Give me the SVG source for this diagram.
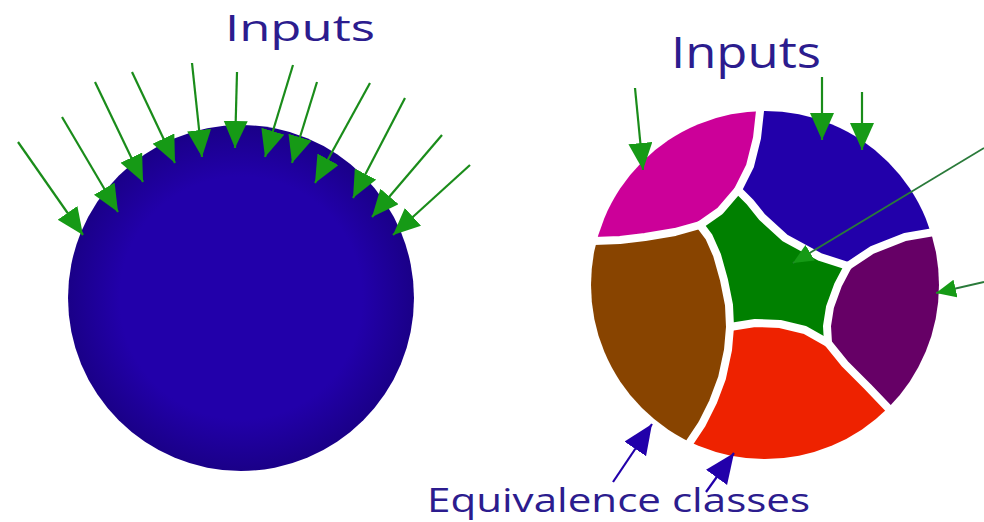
<svg xmlns="http://www.w3.org/2000/svg" width="984" height="522" viewBox="0 0 984 522">
<style>
.lbl{font-family:"Open Sans","DejaVu Sans",sans-serif;fill:#2c1c8e}
.ga{stroke:#1a8c1a;stroke-width:2.2;fill:none}
.gt{stroke:#2a7a3a;stroke-width:1.8;fill:none}
.ba{stroke:#2200aa;stroke-width:2.2;fill:none}
.gap{stroke:#fff;stroke-width:8;fill:none;stroke-linejoin:round;stroke-linecap:round}
</style>
<defs>
<radialGradient id="sph" cx="0.5" cy="0.5" r="0.5">
<stop offset="0.7" stop-color="#2200aa"/>
<stop offset="1" stop-color="#1a0088"/>
</radialGradient>
<clipPath id="cc"><circle cx="765" cy="285" r="174"/></clipPath>
<marker id="hg" markerUnits="userSpaceOnUse" markerWidth="30" markerHeight="26" refX="27" refY="12" orient="auto">
<path d="M0,0 L27,12 L0,24 Z" fill="#169a16"/>
</marker>
<marker id="hs" markerUnits="userSpaceOnUse" markerWidth="22" markerHeight="20" refX="20" refY="9" orient="auto">
<path d="M0,0 L20,9 L0,18 Z" fill="#169a16"/>
</marker>
<marker id="hb" markerUnits="userSpaceOnUse" markerWidth="32" markerHeight="28" refX="30" refY="13" orient="auto">
<path d="M0,0 L30,13 L0,26 Z" fill="#2200aa"/>
</marker>
</defs>

<g id="sphere">
<circle cx="241" cy="298" r="173" fill="url(#sph)"/>
</g>

<g id="partition">
<g clip-path="url(#cc)">
<path id="magenta" fill="#cc0099" d="M580,243 L594,241 L620,240 L645,237 L675,232 L700,225 L720,211 L738,190 L750,166 L757,138 L760,111 L761,95 L761,80 L570,80 L570,243 Z"/>
<path id="blue" fill="#2200aa" d="M738,190 L750,166 L757,138 L760,111 L761,95 L761,80 L970,80 L970,229 L955,229 L940,231 L905,237 L872,250 L848,266 L820,257 L785,238 L762,217 L750,202 Z"/>
<path id="green" fill="#008000" d="M700,225 L720,211 L738,190 L750,202 L762,217 L785,238 L820,257 L848,266 L838,285 L830,307 L827,326 L828,343 L805,330 L780,324 L755,323 L730,327 L729,305 L724,280 L717,255 L709,237 Z"/>
<path id="purple" fill="#660066" d="M848,266 L872,250 L905,237 L940,231 L955,229 L970,229 L970,440 L900,420 L890,410 L868,387 L845,364 L828,343 L827,326 L830,307 L838,285 Z"/>
<path id="red" fill="#ee2200" d="M730,327 L755,323 L780,324 L805,330 L828,343 L845,364 L868,387 L890,410 L900,420 L900,480 L682,480 L682,458 L690,442 L702,424 L713,402 L722,378 L728,350 Z"/>
<path id="brown" fill="#884400" d="M580,243 L594,241 L620,240 L645,237 L675,232 L700,225 L709,237 L717,255 L724,280 L729,305 L730,327 L728,350 L722,378 L713,402 L702,424 L690,442 L682,458 L682,480 L570,480 L570,243 Z"/>
</g>
<g id="gaps">
<polyline class="gap" points="580,243 594,241 620,240 645,237 675,232 700,225 720,211 738,190 750,166 757,138 760,111 761,95"/>
<polyline class="gap" points="700,225 709,237 717,255 724,280 729,305 730,327 728,350 722,378 713,402 702,424 690,442 682,458"/>
<polyline class="gap" points="730,327 755,323 780,324 805,330 828,343"/>
<polyline class="gap" points="848,266 838,285 830,307 827,326 828,343 845,364 868,387 890,410 900,420"/>
<polyline class="gap" points="848,266 872,250 905,237 940,231 955,229"/>
<polyline class="gap" points="738,190 750,202 762,217 785,238 820,257 848,266"/>
</g>
</g>

<g id="connectors">
<line class="ga" x1="18" y1="142" x2="83" y2="235" marker-end="url(#hg)"/>
<line class="ga" x1="62" y1="117" x2="118" y2="212" marker-end="url(#hg)"/>
<line class="ga" x1="95" y1="82" x2="143" y2="182" marker-end="url(#hg)"/>
<line class="ga" x1="132" y1="72" x2="175" y2="163" marker-end="url(#hg)"/>
<line class="ga" x1="192" y1="63" x2="202" y2="157" marker-end="url(#hg)"/>
<line class="ga" x1="237" y1="72" x2="235" y2="148" marker-end="url(#hg)"/>
<line class="ga" x1="293" y1="65" x2="265" y2="157" marker-end="url(#hg)"/>
<line class="ga" x1="317" y1="82" x2="292" y2="163" marker-end="url(#hg)"/>
<line class="ga" x1="370" y1="83" x2="315" y2="183" marker-end="url(#hg)"/>
<line class="ga" x1="405" y1="98" x2="353" y2="198" marker-end="url(#hg)"/>
<line class="ga" x1="442" y1="135" x2="372" y2="217" marker-end="url(#hg)"/>
<line class="ga" x1="470" y1="165" x2="393" y2="235" marker-end="url(#hg)"/>

<line class="ga" x1="635" y1="88" x2="643" y2="170" marker-end="url(#hg)"/>
<line class="ga" x1="822" y1="77" x2="822" y2="140" marker-end="url(#hg)"/>
<line class="ga" x1="862" y1="92" x2="862" y2="150" marker-end="url(#hg)"/>
<line class="gt" x1="984" y1="148" x2="793" y2="263" marker-end="url(#hs)"/>
<line class="gt" x1="984" y1="282" x2="936" y2="293" marker-end="url(#hs)"/>

<line class="ba" x1="613" y1="482" x2="652" y2="424" marker-end="url(#hb)"/>
<line class="ba" x1="706" y1="492" x2="734" y2="453" marker-end="url(#hb)"/>
</g>

<g id="labels">
<text class="lbl" x="225" y="41" font-size="37" textLength="150" lengthAdjust="spacingAndGlyphs">Inputs</text>
<text class="lbl" x="671" y="68" font-size="44" textLength="150" lengthAdjust="spacingAndGlyphs">Inputs</text>
<text class="lbl" x="427" y="512" font-size="33" textLength="383" lengthAdjust="spacingAndGlyphs">Equivalence classes</text>
</g>
</svg>
